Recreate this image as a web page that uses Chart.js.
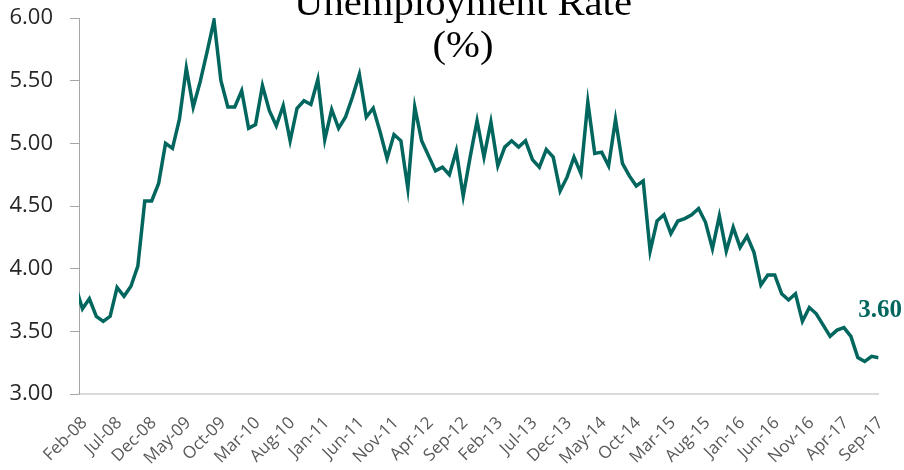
<!DOCTYPE html>
<html>
<head>
<meta charset="utf-8">
<script src="https://cdn.jsdelivr.net/npm/chart.js@4/dist/chart.umd.min.js"></script>
<style>
  html, body { margin: 0; padding: 0; background: #fff; }
  #wrap { width: 904px; height: 470px; position: relative; }
</style>
</head>
<body>
<div id="wrap"><canvas id="rate"></canvas></div>
<script>
// Monthly categories, Jan-08 .. Sep-17
const months = [
  'Jan-08', 'Feb-08', 'Mar-08', 'Apr-08', 'May-08', 'Jun-08', 'Jul-08', 'Aug-08', 'Sep-08', 'Oct-08', 'Nov-08', 'Dec-08',
  'Jan-09', 'Feb-09', 'Mar-09', 'Apr-09', 'May-09', 'Jun-09', 'Jul-09', 'Aug-09', 'Sep-09', 'Oct-09', 'Nov-09', 'Dec-09',
  'Jan-10', 'Feb-10', 'Mar-10', 'Apr-10', 'May-10', 'Jun-10', 'Jul-10', 'Aug-10', 'Sep-10', 'Oct-10', 'Nov-10', 'Dec-10',
  'Jan-11', 'Feb-11', 'Mar-11', 'Apr-11', 'May-11', 'Jun-11', 'Jul-11', 'Aug-11', 'Sep-11', 'Oct-11', 'Nov-11', 'Dec-11',
  'Jan-12', 'Feb-12', 'Mar-12', 'Apr-12', 'May-12', 'Jun-12', 'Jul-12', 'Aug-12', 'Sep-12', 'Oct-12', 'Nov-12', 'Dec-12',
  'Jan-13', 'Feb-13', 'Mar-13', 'Apr-13', 'May-13', 'Jun-13', 'Jul-13', 'Aug-13', 'Sep-13', 'Oct-13', 'Nov-13', 'Dec-13',
  'Jan-14', 'Feb-14', 'Mar-14', 'Apr-14', 'May-14', 'Jun-14', 'Jul-14', 'Aug-14', 'Sep-14', 'Oct-14', 'Nov-14', 'Dec-14',
  'Jan-15', 'Feb-15', 'Mar-15', 'Apr-15', 'May-15', 'Jun-15', 'Jul-15', 'Aug-15', 'Sep-15', 'Oct-15', 'Nov-15', 'Dec-15',
  'Jan-16', 'Feb-16', 'Mar-16', 'Apr-16', 'May-16', 'Jun-16', 'Jul-16', 'Aug-16', 'Sep-16', 'Oct-16', 'Nov-16', 'Dec-16',
  'Jan-17', 'Feb-17', 'Mar-17', 'Apr-17', 'May-17', 'Jun-17', 'Jul-17', 'Aug-17', 'Sep-17'
];

// Unemployment rate (%), one value per month
const rate = [
  3.86, 3.68, 3.76, 3.62, 3.58, 3.62, 3.85, 3.78, 3.86, 4.02, 4.54, 4.54,
  4.68, 5.00, 4.96, 5.19, 5.60, 5.29, 5.49, 5.73, 5.98, 5.50, 5.29, 5.29,
  5.42, 5.12, 5.15, 5.46, 5.26, 5.14, 5.30, 5.02, 5.28, 5.34, 5.31, 5.51,
  5.03, 5.27, 5.12, 5.21, 5.37, 5.55, 5.21, 5.28, 5.09, 4.88, 5.07, 5.02,
  4.64, 5.29, 5.02, 4.90, 4.78, 4.81, 4.75, 4.94, 4.58, 4.89, 5.18, 4.89,
  5.17, 4.82, 4.97, 5.02, 4.97, 5.02, 4.87, 4.81, 4.95, 4.89, 4.62, 4.73,
  4.89, 4.76, 5.33, 4.92, 4.93, 4.82, 5.19, 4.84, 4.74, 4.66, 4.70, 4.14,
  4.38, 4.43, 4.28, 4.38, 4.40, 4.43, 4.48, 4.37, 4.16, 4.42, 4.14, 4.33,
  4.17, 4.26, 4.13, 3.87, 3.95, 3.95, 3.80, 3.75, 3.80, 3.58, 3.69, 3.64,
  3.55, 3.46, 3.51, 3.53, 3.46, 3.29, 3.26, 3.30, 3.29
];

// Labels shown under the x axis (every fifth month)
const tickLabels = [
  'Feb-08', 'Jul-08', 'Dec-08', 'May-09', 'Oct-09', 'Mar-10', 'Aug-10', 'Jan-11',
  'Jun-11', 'Nov-11', 'Apr-12', 'Sep-12', 'Feb-13', 'Jul-13', 'Dec-13', 'May-14',
  'Oct-14', 'Mar-15', 'Aug-15', 'Jan-16', 'Jun-16', 'Nov-16', 'Apr-17', 'Sep-17'
];

const titleLines = ['Unemployment Rate', '(%)'];
const lastNote = 3.60;

const teal = '#00665e';
const tickIndex = tickLabels.map(l => months.indexOf(l));

// Title and the end-of-line note
const textPlugin = {
  id: 'textPlugin',
  afterDraw(chart) {
    const ctx = chart.ctx;
    const y = chart.scales.y;
    ctx.save();
    ctx.fillStyle = '#000';
    ctx.textAlign = 'center';
    ctx.textBaseline = 'alphabetic';
    ctx.font = '37px "Liberation Serif", serif';
    // slightly wide serif for the title
    ctx.save();
    ctx.translate(463, 0);
    ctx.scale(1.1, 1);
    ctx.fillText(titleLines[0], 0, 15);
    ctx.fillText(titleLines[1], 0, 57);
    ctx.restore();

    ctx.fillStyle = teal;
    ctx.textAlign = 'right';
    ctx.font = 'bold 25px "Liberation Serif", serif';
    ctx.fillText(lastNote.toFixed(2), chart.width - 2, y.getPixelForValue(lastNote) - 2);
    ctx.restore();
  }
};

new Chart(document.getElementById('rate').getContext('2d'), {
  type: 'line',
  data: {
    datasets: [{
      label: 'Unemployment Rate',
      data: rate.map((v, i) => ({ x: i, y: v })),
      borderColor: teal,
      borderWidth: 3.5,
      pointRadius: 0,
      tension: 0,
      fill: false
    }]
  },
  options: {
    responsive: true,
    maintainAspectRatio: false,
    animation: false,
    layout: { padding: { top: 18, right: 21, left: 0, bottom: 0 } },
    plugins: {
      legend: { display: false },
      tooltip: { enabled: false },
      title: { display: false }
    },
    scales: {
      x: {
        type: 'linear',
        min: 0.5,
        max: months.length - 1,
        afterBuildTicks: axis => { axis.ticks = tickIndex.map(v => ({ value: v })); },
        afterFit: axis => { axis.height = 76; },
        grid: { display: false },
        border: { display: true, color: '#d9d9d9', width: 2 },
        ticks: {
          autoSkip: false,
          minRotation: 45,
          maxRotation: 45,
          padding: 11,
          labelOffset: 2,
          color: '#595959',
          font: { family: 'Open Sans', size: 17 },
          callback: v => months[v]
        }
      },
      y: {
        min: 3,
        max: 6,
        afterFit: axis => { axis.width = 79; axis.paddingTop = 0; axis.paddingBottom = 0; },
        grid: { drawOnChartArea: false, drawTicks: true, tickLength: 9, color: '#a6a6a6' },
        border: { display: true, color: '#a6a6a6', width: 1 },
        ticks: {
          stepSize: 0.5,
          padding: 17,
          color: '#262626',
          font: { family: 'Open Sans', size: 22 },
          callback: v => v.toFixed(2)
        }
      }
    }
  },
  plugins: [textPlugin]
});
</script>
</body>
</html>
